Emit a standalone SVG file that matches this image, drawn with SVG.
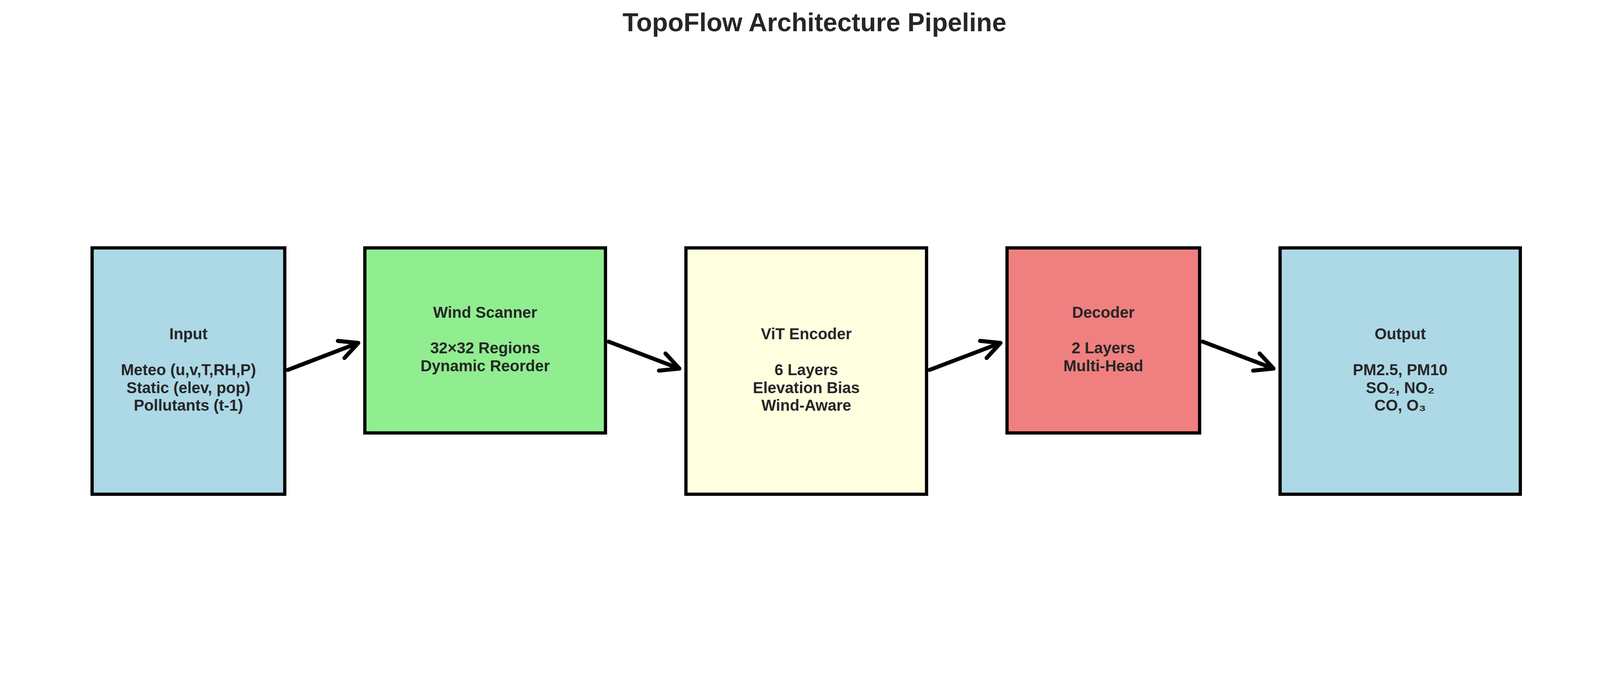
<svg xmlns="http://www.w3.org/2000/svg" width="4170" height="1770" viewBox="0 0 4170 1770">
<style>
.box{stroke:#000;stroke-width:8.3}
.t{font-family:"Liberation Sans",Arial,sans-serif;font-weight:bold;font-size:40px;fill:#262626;text-anchor:middle}
.title{font-family:"Liberation Sans",Arial,sans-serif;font-weight:bold;font-size:66px;fill:#262626;text-anchor:middle}
.arr{fill:none;stroke:#000;stroke-width:10.4;stroke-linecap:round;stroke-linejoin:round}
</style>
<rect width="4170" height="1770" fill="#fff"/>
<text class="title" x="2085" y="79.5">TopoFlow Architecture Pipeline</text>
<g id="input">
<rect class="box" x="235.8" y="635" width="493.2" height="631" fill="#ADD8E6"/>
<text class="t"><tspan x="482.4" y="869.3">Input</tspan><tspan x="482.4" y="960.8">Meteo (u,v,T,RH,P)</tspan><tspan x="482.4" y="1006.5">Static (elev, pop)</tspan><tspan x="482.4" y="1052.3">Pollutants (t-1)</tspan></text>
</g>
<g id="wind_scanner">
<rect class="box" x="934" y="635" width="616" height="474" fill="#90EE90"/>
<text class="t"><tspan x="1242" y="813.7">Wind Scanner</tspan><tspan x="1242" y="905.2">32×32 Regions</tspan><tspan x="1242" y="950.9">Dynamic Reorder</tspan></text>
</g>
<g id="vit_encoder">
<rect class="box" x="1756" y="635" width="616" height="631" fill="#FFFFE0"/>
<text class="t"><tspan x="2064" y="869.3">ViT Encoder</tspan><tspan x="2064" y="960.8">6 Layers</tspan><tspan x="2064" y="1006.5">Elevation Bias</tspan><tspan x="2064" y="1052.3">Wind-Aware</tspan></text>
</g>
<g id="decoder">
<rect class="box" x="2578" y="635" width="493" height="474" fill="#F08080"/>
<text class="t"><tspan x="2824.5" y="813.7">Decoder</tspan><tspan x="2824.5" y="905.2">2 Layers</tspan><tspan x="2824.5" y="950.9">Multi-Head</tspan></text>
</g>
<g id="output">
<rect class="box" x="3277" y="635" width="615" height="631" fill="#ADD8E6"/>
<text class="t"><tspan x="3584.5" y="869.3">Output</tspan><tspan x="3584.5" y="960.8">PM2.5, PM10</tspan><tspan x="3584.5" y="1006.5">SO₂, NO₂</tspan><tspan x="3584.5" y="1052.3">CO, O₃</tspan></text>
</g>
<g id="connectors">
<path class="arr" d="M736.8,947.5 L917.2,878.4 M865,873.3 L917.2,878.4 L881.8,917.1"/>
<path class="arr" d="M1557.8,875 L1739.2,944.1 M1703.7,905.4 L1739.2,944.1 L1687,949.3"/>
<path class="arr" d="M2379.8,947.5 L2561.2,878.4 M2509,873.2 L2561.2,878.4 L2525.7,917.1"/>
<path class="arr" d="M3078.8,875 L3260.2,944.1 M3224.7,905.4 L3260.2,944.1 L3208,949.3"/>
</g>
</svg>
